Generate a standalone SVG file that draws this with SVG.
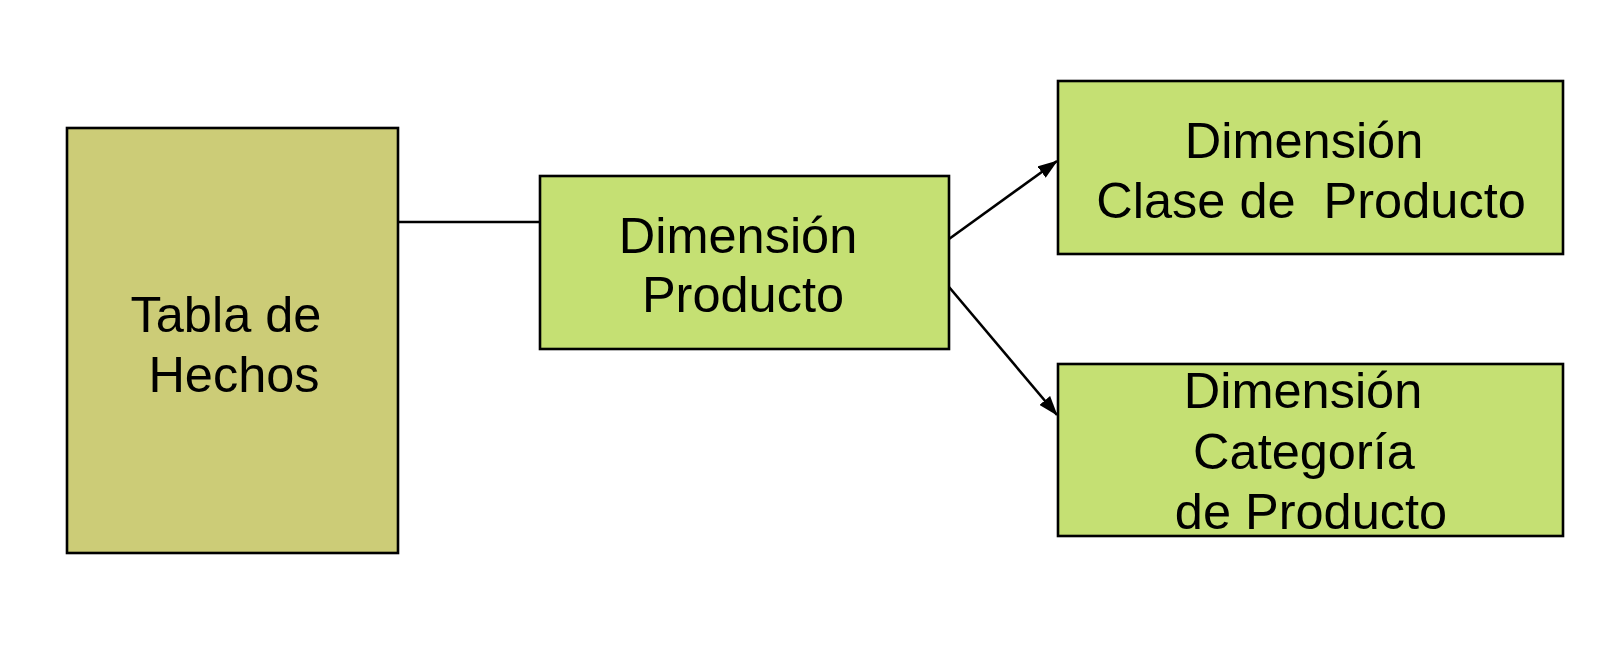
<svg xmlns="http://www.w3.org/2000/svg" width="1606" height="656" viewBox="0 0 1606 656">
<style>
.box{stroke:#000;stroke-width:2.6}
.fact{fill:#CCCC77}
.dim{fill:#C5E073}
.lbl{font-family:"Liberation Sans",Arial,sans-serif;font-size:50.5px;fill:#000;text-anchor:middle}
.conn{stroke:#000;stroke-width:2.6;fill:none}
</style>
<defs>
<marker id="arr" markerWidth="20" markerHeight="14" refX="19" refY="7" orient="auto" markerUnits="userSpaceOnUse">
<path d="M0,0 L20,7 L0,14 Z" fill="#000"/>
</marker>
</defs>
<rect width="1606" height="656" fill="#fff"/>
<g id="connectors">
<line class="conn" x1="398" y1="222" x2="540" y2="222"/>
<line class="conn" x1="949" y1="239" x2="1057" y2="161" marker-end="url(#arr)"/>
<line class="conn" x1="949" y1="287" x2="1057" y2="415" marker-end="url(#arr)"/>
</g>
<g id="tabla-hechos">
<rect class="box fact" x="67" y="128" width="331" height="425"/>
<text class="lbl" x="226" y="332">Tabla de</text>
<text class="lbl" x="234" y="392">Hechos</text>
</g>
<g id="dim-producto">
<rect class="box dim" x="540" y="176" width="409" height="173"/>
<text class="lbl" x="738" y="253">Dimensión</text>
<text class="lbl" x="743" y="312">Producto</text>
</g>
<g id="dim-clase">
<rect class="box dim" x="1058" y="81" width="505" height="173"/>
<text class="lbl" x="1304" y="158">Dimensión</text>
<text class="lbl" x="1311" y="218" xml:space="preserve">Clase de  Producto</text>
</g>
<g id="dim-categoria">
<rect class="box dim" x="1058" y="364" width="505" height="172"/>
<text class="lbl" x="1303" y="408">Dimensión</text>
<text class="lbl" x="1304" y="469">Categoría</text>
<text class="lbl" x="1311" y="529">de Producto</text>
</g>
</svg>
